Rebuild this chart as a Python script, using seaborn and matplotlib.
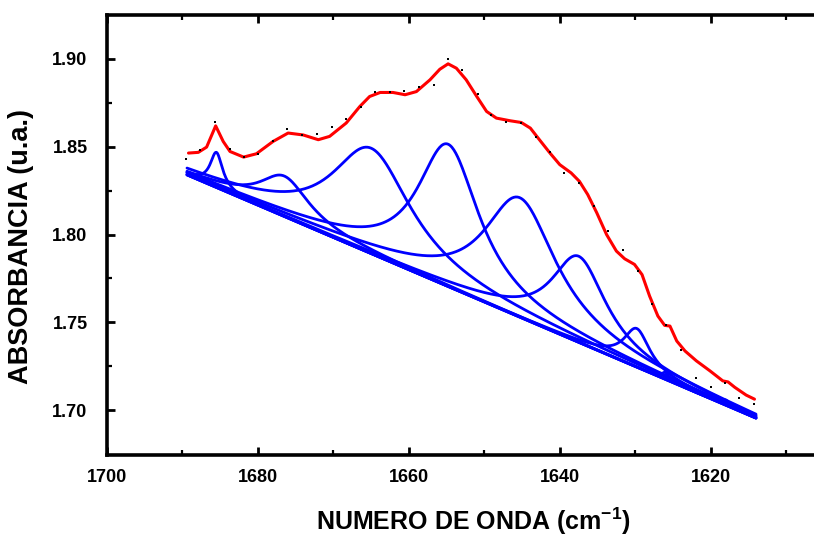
import numpy as np
import matplotlib.pyplot as plt
import seaborn as sns

# measured points (black dots)
wavenumber = [1689.5, 1687.7, 1685.7, 1683.7, 1681.9, 1680.0, 1678.0, 1676.1, 1674.1, 1672.2,
              1670.2, 1668.3, 1666.4, 1664.5, 1662.5, 1660.6, 1658.7, 1656.7, 1654.8, 1652.9,
              1650.9, 1649.1, 1647.1, 1645.2, 1643.2, 1641.3, 1639.4, 1637.4, 1635.5, 1633.6,
              1631.6, 1629.7, 1627.8, 1625.9, 1623.9, 1622.0, 1620.0, 1618.1, 1616.2, 1614.3]
absorbance = [1.8430, 1.8479, 1.8640, 1.8489, 1.8439, 1.8460, 1.8530, 1.8600, 1.8568, 1.8570,
              1.8610, 1.8659, 1.8729, 1.8809, 1.8809, 1.8820, 1.8839, 1.8850, 1.9000, 1.8939,
              1.8799, 1.8678, 1.8640, 1.8636, 1.8558, 1.8470, 1.8350, 1.8291, 1.8161, 1.8023,
              1.7911, 1.7791, 1.7602, 1.7485, 1.7342, 1.7182, 1.7132, 1.7153, 1.7072, 1.7034]

# red curve (smoothed spectrum)
red_x = [1689.2, 1687.9, 1686.8, 1685.6, 1684.6, 1683.7, 1681.9, 1680.2, 1678.0, 1676.0,
         1674.0, 1672.0, 1670.5, 1668.3, 1666.5, 1665.2, 1663.8, 1662.1, 1660.5, 1659.0,
         1657.2, 1655.9, 1654.8, 1653.7, 1652.4, 1651.0, 1649.7, 1648.4, 1646.6, 1645.1,
         1643.9, 1642.7, 1641.3, 1640.0, 1638.5, 1637.4, 1636.3, 1635.1, 1633.8, 1632.5,
         1631.4, 1630.1, 1629.1, 1628.1, 1627.0, 1626.1, 1625.4, 1624.5, 1623.4, 1621.9,
         1620.1, 1618.4, 1617.7, 1616.8, 1615.3, 1614.2]
red_y = [1.8464, 1.8468, 1.8498, 1.8619, 1.8530, 1.8473, 1.8441, 1.8460, 1.8530, 1.8578,
         1.8567, 1.8540, 1.8559, 1.8635, 1.8729, 1.8786, 1.8809, 1.8809, 1.8796, 1.8814,
         1.8881, 1.8941, 1.8972, 1.8947, 1.8881, 1.8786, 1.8701, 1.8663, 1.8648, 1.8638,
         1.8606, 1.8540, 1.8464, 1.8398, 1.8351, 1.8303, 1.8228, 1.8124, 1.8000, 1.7906,
         1.7862, 1.7830, 1.7772, 1.7650, 1.7536, 1.7483, 1.7479, 1.7394, 1.7337, 1.7281,
         1.7224, 1.7167, 1.7161, 1.7130, 1.7086, 1.7063]

# fitted bands (Lorentzian): centre, height above baseline, half width
band_center = [1685.5, 1676.5, 1665.0, 1654.8, 1645.3, 1637.5, 1629.8, 1626.0, 1618.0]
band_height = [0.020, 0.023, 0.060, 0.081, 0.068, 0.049, 0.022, 0.004, 0.003]
band_width = [1.0, 4.0, 6.4, 5.0, 5.8, 4.4, 2.1, 0.6, 0.6]

# linear baseline end points
base_x = [1689.4, 1614.0]
base_y = [1.834, 1.6955]

x = np.linspace(base_x[0], base_x[1], 600)
baseline = np.interp(x, base_x[::-1], base_y[::-1])


def lorentz(x, c, h, w):
    return h / (1 + ((x - c) / w) ** 2)


sns.set_style("ticks")
plt.rcParams['font.family'] = ['Liberation Sans', 'DejaVu Sans']
plt.rcParams['font.weight'] = 'bold'
plt.rcParams['mathtext.fontset'] = 'custom'
plt.rcParams['mathtext.rm'] = 'Liberation Sans:bold'
plt.rcParams['mathtext.bf'] = 'Liberation Sans:bold'
plt.rcParams['axes.edgecolor'] = 'black'
plt.rcParams['xtick.color'] = 'black'
plt.rcParams['ytick.color'] = 'black'
plt.rcParams['text.color'] = 'black'

fig = plt.figure(figsize=(8.14, 5.36), dpi=100)
ax = fig.add_axes([107 / 814, 1 - 455 / 536, (839 - 107) / 814, 440 / 536])

# each band drawn on top of the baseline
for c, h, w in zip(band_center, band_height, band_width):
    sns.lineplot(x=x, y=baseline + lorentz(x, c, h, w), color='#0000ff', lw=2.0, ax=ax, sort=False)

sns.lineplot(x=red_x, y=red_y, color='#ff0000', lw=2.2, ax=ax, sort=False)
sns.scatterplot(x=wavenumber, y=absorbance, color='black', s=4, marker='s', linewidth=0, ax=ax, zorder=5)

ax.set_xlim(1700, 1603)
ax.set_ylim(1.6745, 1.925)
ax.set_xticks([1700, 1680, 1660, 1640, 1620])
ax.set_xticks([1690, 1670, 1650, 1630, 1610], minor=True)
ax.set_yticks([1.70, 1.75, 1.80, 1.85, 1.90])
ax.set_yticks([1.725, 1.775, 1.825, 1.875], minor=True)
ax.set_yticklabels(['1.70', '1.75', '1.80', '1.85', '1.90'])

for s in ['left', 'bottom', 'top', 'right']:
    ax.spines[s].set_linewidth(2.6)
ax.tick_params(axis='both', which='major', direction='in', length=6, width=2,
               labelsize=13, top=True)
ax.tick_params(axis='both', which='minor', direction='in', length=3.5, width=1.6, top=True)
ax.tick_params(axis='x', which='major', pad=10)
ax.tick_params(axis='y', which='major', pad=14)

fig.text(21 / 814, 1 - 247 / 536, 'ABSORBANCIA (u.a.)', rotation=90, ha='center', va='center',
         fontsize=19.5, fontweight='bold')
fig.text(473 / 814, 1 - 521 / 536, r'NUMERO DE ONDA (cm$^{-1}$)', ha='center', va='center',
         fontsize=18, fontweight='bold')

fig.savefig('out.png', dpi=100)
